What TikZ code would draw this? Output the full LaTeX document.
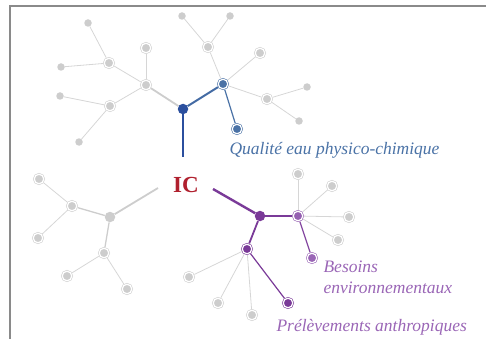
\documentclass[tikz,border=0pt]{standalone}
\usepackage{fontspec}
\setmainfont{Liberation Serif}
\usetikzlibrary{positioning}

\definecolor{nodegray}{HTML}{CDCDCD}
\definecolor{linegray}{HTML}{D6D6D6}
\definecolor{framegray}{HTML}{8A8A8A}
\definecolor{icred}{HTML}{B0202E}
\definecolor{qdark}{HTML}{2B4F9E}
\definecolor{qblue}{HTML}{4A72A6}
\definecolor{pdark}{HTML}{7A3A98}
\definecolor{plight}{HTML}{9A66B6}

\begin{document}
\begin{tikzpicture}[x=1pt,y=-1pt,
  dot/.style={circle,fill=nodegray,inner sep=0pt,minimum size=7.5pt},
  ring/.style={circle,fill=#1,draw=#1,double=white,double distance=1.2pt,
    line width=0.6pt,inner sep=0pt,minimum size=9.5pt,outer sep=1.2pt},
  ring/.default=nodegray,
  hub/.style={circle,fill=#1,inner sep=0pt,minimum size=10.5pt},
  twig/.style={draw=linegray,line width=0.8pt},
  trunk/.style={draw=nodegray,line width=1.8pt},
  label/.style={font=\fontsize{17.5}{20}\selectfont\itshape,anchor=base west}]
  \useasboundingbox (0,0) rectangle (486,339);
  \draw[framegray,line width=2.5pt] (10,339) -- (10,6) -- (486,6);

  % IC
  \node[font=\fontsize{23}{25}\selectfont\bfseries,text=icred] (ic) at (186,185) {IC};
  \coordinate (qend) at (183,157);
  \coordinate (gend) at (158,188);
  \coordinate (pend) at (213,189);

  % qualite eau: top tree
  \node[hub=qdark] (qhub) at (183,109) {};
  \node[ring] (t1) at (146,85) {};
  \node[ring] (t2) at (146,48) {};
  \node[ring] (t3) at (109,63) {};
  \node[dot] (t4) at (88,23) {};
  \node[dot] (t5) at (61,67) {};
  \node[ring] (t6) at (110,106) {};
  \node[dot] (t7) at (60,96) {};
  \node[dot] (t8) at (79,142) {};
  \node[ring=qblue] (qa) at (223,84) {};
  \node[ring=qblue] (qb) at (237,129) {};
  \node[ring] (t9) at (208,47) {};
  \node[dot] (t10) at (182,16) {};
  \node[dot] (t11) at (230,16) {};
  \node[ring] (t12) at (260,53) {};
  \node[ring] (t13) at (267,99) {};
  \node[dot] (t14) at (307,87) {};
  \node[dot] (t15) at (299,121) {};
  \draw[trunk] (qhub) -- (t1);
  \foreach \a/\b in {t1/t2,t1/t3,t3/t4,t3/t5,t1/t6,t6/t7,t6/t8,qa/t9,t9/t10,t9/t11,qa/t12,qa/t13,t13/t14,t13/t15}
    \draw[twig] (\a) -- (\b);
  \draw[qdark,line width=2.4pt] (qhub) -- (qend);
  \draw[qblue!80!qdark,line width=2pt] (qhub) -- (qa);
  \draw[qblue,line width=1.2pt] (qa) -- (qb);
  \node[label,text=qblue] (qlab) at (226,154) {Qualité eau physico-chimique};

  % left gray tree
  \node[hub=nodegray] (ghub) at (110,217) {};
  \node[ring] (l1) at (72,206) {};
  \node[ring] (l2) at (39,179) {};
  \node[ring] (l3) at (38,238) {};
  \node[ring] (l4) at (104,253) {};
  \node[ring] (l5) at (67,276) {};
  \node[ring] (l6) at (127,289) {};
  \draw[trunk] (ghub) -- (gend);
  \draw[trunk,line width=1.3pt] (ghub) -- (l1);
  \draw[trunk,line width=1.3pt] (ghub) -- (l4);
  \foreach \a/\b in {l1/l2,l1/l3,l4/l5,l4/l6}
    \draw[twig] (\a) -- (\b);

  % besoins / prelevements: purple tree
  \node[hub=pdark] (phub) at (260,216) {};
  \node[ring=plight!85!pdark] (pa) at (298,216) {};
  \node[ring=pdark] (pb) at (247,249) {};
  \node[ring=plight] (pc) at (312,258) {};
  \node[ring=pdark] (pd) at (288,303) {};
  \node[ring] (r1) at (298,174) {};
  \node[ring] (r2) at (332,186) {};
  \node[ring] (r3) at (349,217) {};
  \node[ring] (r4) at (338,240) {};
  \node[ring] (r5) at (189,277) {};
  \node[ring] (r6) at (218,303) {};
  \node[ring] (r7) at (252,315) {};
  \foreach \a/\b in {pa/r1,pa/r2,pa/r3,pa/r4,pb/r5,pb/r6,pb/r7}
    \draw[twig] (\a) -- (\b);
  \draw[pdark,line width=2.4pt] (pend) -- (phub);
  \draw[pdark,line width=1.8pt] (phub) -- (pa);
  \draw[pdark,line width=1.8pt] (phub) -- (pb);
  \draw[pdark!80!plight,line width=1.2pt] (pa) -- (pc);
  \draw[pdark,line width=1.2pt] (pb) -- (pd);
  \node[label,text=plight] (blab) at (320,272) {Besoins};
  \node[label,text=plight] (elab) at (320,293) {environnementaux};
  \node[label,text=plight] (plab) at (273,331) {Prélèvements anthropiques};
\end{tikzpicture}
\end{document}
